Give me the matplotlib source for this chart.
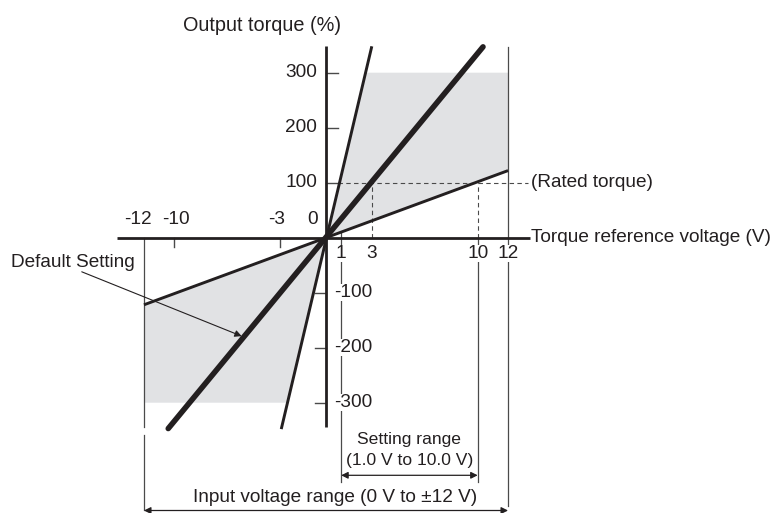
import numpy as np
import matplotlib
matplotlib.use('Agg')
import matplotlib.pyplot as plt

plt.rcParams['font.family'] = ['Liberation Sans', 'DejaVu Sans']

# lines through the origin (voltage in V, torque in %)
steep_v = [-2.95, 3.02]
steep_t = [-348, 348]
default_v = [-10.4, 10.35]
default_t = [-347, 347]
shallow_v = [-12, 12]
shallow_t = [-122, 122]

# torque limit of shaded area and voltage limit
t_limit = 300
v_limit = 12

x_ticks_neg = [-12, -10, -3, 0]
x_ticks_pos = [1, 3, 10, 12]
y_ticks_pos = [100, 200, 300]
y_ticks_neg = [-100, -200, -300]

BLACK = '#231f20'
GREY = '#4a4a4a'
SHADE = '#e1e2e4'

fig = plt.figure(figsize=(7.75, 5.13), dpi=100)
ax = fig.add_axes([0, 0, 1, 1])
# pixel mapping: origin at (326, 237.7), 15.17 px/V, 0.55 px/%
ax.set_xlim(-326 / 15.17, (775 - 326) / 15.17)
ax.set_ylim(-(513 - 237.7) / 0.55, 237.7 / 0.55)
ax.axis('off')

# shaded areas
v_top = np.interp(t_limit, steep_t, steep_v)
v_bot = np.interp(-t_limit, steep_t, steep_v)
ax.fill([0, v_top, v_limit, v_limit], [0, t_limit, t_limit, shallow_t[1]],
        color=SHADE, lw=0, zorder=1)
ax.fill([0, -v_limit, -v_limit, v_bot], [0, shallow_t[0], -t_limit, -t_limit],
        color=SHADE, lw=0, zorder=1)

# dashed guides
ax.plot([0.8, 13.3], [100, 100], color=GREY, lw=0.8, ls=(0, (4, 3)), zorder=2)
ax.plot([3, 3], [0, 100], color=GREY, lw=0.8, ls=(0, (4, 3)), zorder=2)
ax.plot([10, 10], [0, 100], color=GREY, lw=0.8, ls=(0, (4, 3)), zorder=2)

# thin extension lines
ax.plot([12, 12], [346, -487], color=GREY, lw=0.9, zorder=2)
ax.plot([10, 10], [0, -445], color=GREY, lw=0.9, zorder=2)
ax.plot([1, 1], [10, -445], color=GREY, lw=0.9, zorder=2)
ax.plot([-12, -12], [0, -345], color=GREY, lw=0.9, zorder=2)
ax.plot([-12, -12], [-358, -495], color=GREY, lw=0.9, zorder=2)

# axes
ax.plot([-13.8, 13.45], [0, 0], color=BLACK, lw=2, solid_capstyle='butt', zorder=4)
ax.plot([0, 0], [-344, 348], color=BLACK, lw=2, solid_capstyle='butt', zorder=4)

# ticks
for v in [-10, -3]:
    ax.plot([v, v], [0, -17], color=GREY, lw=1, zorder=3)
for t in y_ticks_pos:
    ax.plot([0, 0.77], [t, t], color=GREY, lw=1, zorder=3)
for t in y_ticks_neg:
    ax.plot([0, -0.73], [t, t], color=GREY, lw=1, zorder=3)

# characteristic lines
ax.plot(shallow_v, shallow_t, color=BLACK, lw=2.1, solid_capstyle='butt', zorder=5)
ax.plot(steep_v, steep_t, color=BLACK, lw=2.1, solid_capstyle='butt', zorder=5)
ax.plot(default_v, default_t, color=BLACK, lw=4, solid_capstyle='round', zorder=6)

fs = 13.7
# tick labels
x_neg_shift = {-12: -0.4, -10: 0.13, -3: -0.25, 0: -0.86}
for v in x_ticks_neg:
    ax.text(v + x_neg_shift[v], 18, str(v), fontsize=fs, ha='center', va='bottom',
            color=BLACK, zorder=7)
for v in x_ticks_pos:
    ax.text(v, -28, str(v), fontsize=fs, ha='center', va='center', color=BLACK, zorder=7,
            bbox=dict(facecolor='white', edgecolor='none', pad=0))
for t in y_ticks_pos:
    ax.text(-0.6, t, str(t), fontsize=fs, ha='right', va='center', color=BLACK, zorder=7)
for t in y_ticks_neg:
    ax.text(0.55, t, str(t), fontsize=fs, ha='left', va='center', color=BLACK, zorder=7,
            bbox=dict(facecolor='white', edgecolor='none', pad=0))

# axis titles
ax.text(-4.2, 385, 'Output torque (%)', fontsize=14.3, ha='center', va='center',
        color=BLACK)
ax.text(13.5, 0, 'Torque reference voltage (V)', fontsize=fs, ha='left', va='center',
        color=BLACK)
ax.text(13.5, 100, '(Rated torque)', fontsize=fs, ha='left', va='center', color=BLACK)

# default setting annotation
ax.text(-16.7, -45, 'Default Setting', fontsize=fs, ha='center', va='center',
        color=BLACK, zorder=7)
ax.annotate('', xy=(-5.56, -179), xytext=(-16.1, -62),
            arrowprops=dict(arrowstyle='-|>', color=BLACK, lw=0.8,
                            mutation_scale=10, shrinkA=0, shrinkB=0), zorder=6)

# setting range dimension
ax.annotate('', xy=(1, -432), xytext=(10, -432),
            arrowprops=dict(arrowstyle='<|-|>', color=BLACK, lw=0.9,
                            mutation_scale=10, shrinkA=0, shrinkB=0))
ax.text(5.5, -367, 'Setting range', fontsize=12.6, ha='center', va='center', color=BLACK)
ax.text(5.5, -405, '(1.0 V to 10.0 V)', fontsize=12.6, ha='center', va='center',
        color=BLACK)

# input voltage range dimension
ax.annotate('', xy=(-12, -496), xytext=(12, -496),
            arrowprops=dict(arrowstyle='<|-|>', color=BLACK, lw=0.9,
                            mutation_scale=10, shrinkA=0, shrinkB=0))
ax.text(0.6, -472, 'Input voltage range (0 V to \u00b112 V)', fontsize=fs, ha='center',
        va='center', color=BLACK)

fig.savefig('out.png', dpi=100)
